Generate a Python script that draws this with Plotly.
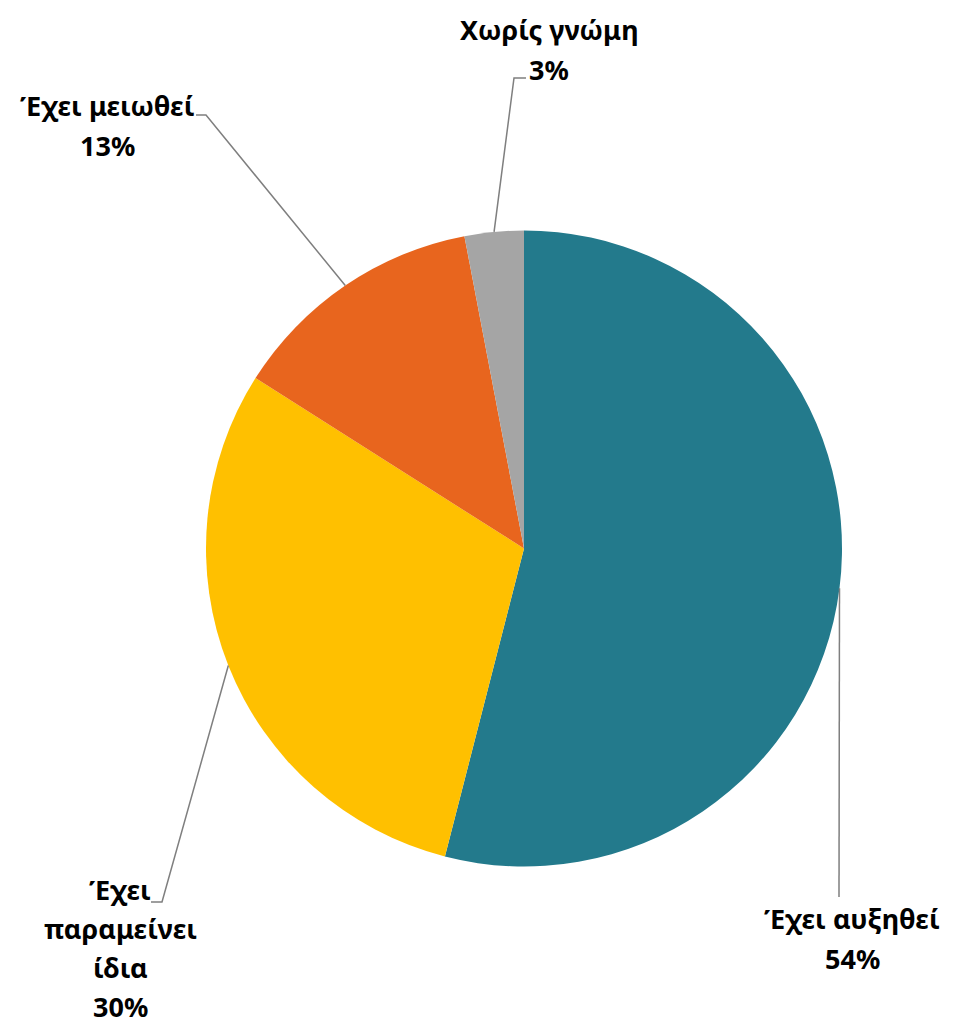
import math
import plotly.graph_objects as go

# ---- data ----
categories = ["Έχει αυξηθεί", "Έχει παραμείνει ίδια", "Έχει μειωθεί", "Χωρίς γνώμη"]
values = [54, 30, 13, 3]
label_lines = [
    ["Έχει αυξηθεί", "54%"],
    ["Έχει", "παραμείνει", "ίδια", "30%"],
    ["Έχει μειωθεί", "13%"],
    ["Χωρίς γνώμη", "3%"],
]
colors = ["#237A8C", "#FFC000", "#E8651E", "#A5A5A5"]

# ---- layout geometry (pixels) ----
W, H = 966, 1026
CX, CY, R = 524, 548.5, 318
FONT = "Noto Sans, Open Sans, sans-serif"
FS = 27

# label anchor (center x, first line y, line step) and leader line bends
label_pos = [(852, 918, 40), (120, 889, 39), (107, 105, 40), (549, 30, 40)]
leader_pts = [
    [(839, 897)],
    [(162, 902), (151, 902)],
    [(206, 115), (196, 115)],
    [(514, 78), (526, 78)],
]


def px(x):
    return x / W


def py(y):
    return 1 - y / H


fig = go.Figure(
    go.Pie(
        labels=categories,
        values=values,
        sort=False,
        direction="clockwise",
        rotation=0,
        marker=dict(colors=colors, line=dict(width=0)),
        textinfo="none",
        hoverinfo="label+percent",
        domain=dict(x=[px(CX - R), px(CX + R)], y=[py(CY + R), py(CY - R)]),
        showlegend=False,
    )
)

total = sum(values)
cum = 0
shapes = []
annotations = []
for i, v in enumerate(values):
    mid = (cum + v / 2) / total * 2 * math.pi
    cum += v
    sx = CX + R * math.sin(mid)
    sy = CY - R * math.cos(mid)
    pts = [(sx, sy)] + leader_pts[i]
    path = "M " + " L ".join(f"{px(x):.5f},{py(y):.5f}" for x, y in pts)
    shapes.append(dict(type="path", path=path, xref="paper", yref="paper",
                       line=dict(color="#7F7F7F", width=1.5)))
    lx, ly, step = label_pos[i]
    for j, t in enumerate(label_lines[i]):
        annotations.append(dict(
            text=f"<b>{t}</b>", x=px(lx), y=py(ly + j * step), xref="paper", yref="paper",
            showarrow=False, xanchor="center", yanchor="middle",
            font=dict(family=FONT, size=FS, color="#000000"),
        ))

fig.update_layout(
    width=W, height=H,
    margin=dict(l=0, r=0, t=0, b=0),
    paper_bgcolor="white", plot_bgcolor="white",
    shapes=shapes, annotations=annotations,
)

fig.write_html(
    "out.html",
    config={"displayModeBar": False},
    post_script="document.body.style.margin='0px';document.body.style.overflow='hidden';",
)
